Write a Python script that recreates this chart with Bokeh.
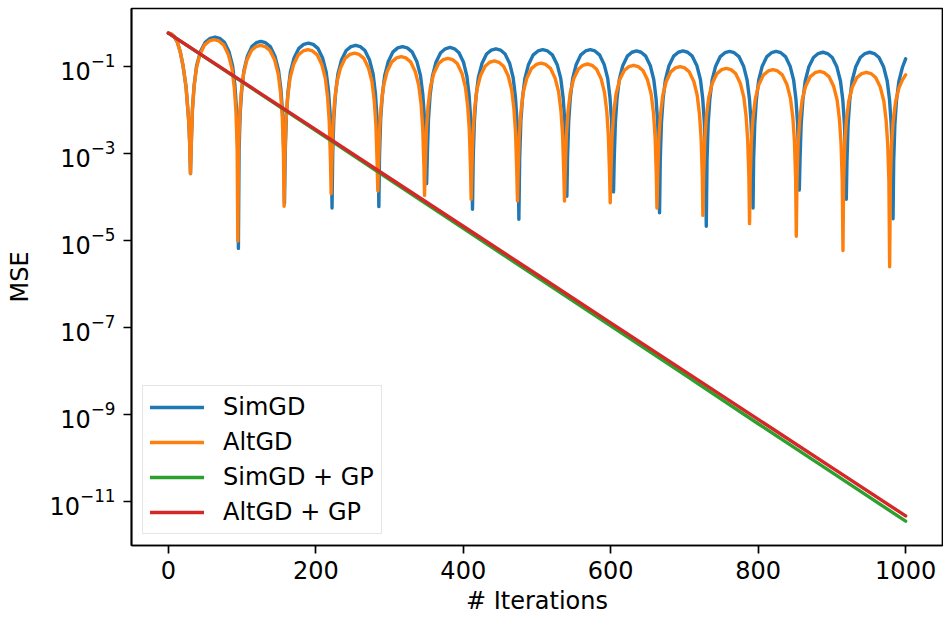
from bokeh.plotting import figure
from bokeh.models import Range1d, FixedTicker, Legend, LegendItem
from bokeh.embed import file_html
from bokeh.resources import INLINE

# ---------------- data (MSE given as log10) ----------------
start_iter = [0, 4, 8, 12, 16, 20, 24, 27.6, 29, 30]
start_log = [-0.24, -0.26, -0.32, -0.44, -0.66, -1.00, -1.48, -2.25, -2.80, -3.47]

simgd_iter = start_iter + [
    31.0, 32.7, 35.0, 38.3, 43.4, 50.0, 56.7, 63.4, 69.7, 76.0, 82.3, 87.1, 90.2, 92.4, 94.0, 95.0,
    95.9, 97.4, 99.6, 102.6, 107.2, 113.2, 119.3, 125.4, 131.8, 138.2, 144.6, 149.4, 152.6, 154.9, 156.5, 157.5,
    158.5, 160.1, 162.4, 165.6, 170.5, 177.0, 183.5, 190.0, 196.4, 202.8, 209.2, 214.0, 217.2, 219.5, 221.1, 222.0,
    222.9, 224.5, 226.8, 230.0, 234.8, 241.2, 247.6, 254.0, 260.3, 266.6, 272.9, 277.7, 280.8, 283.0, 284.6, 285.5,
    286.4, 288.0, 290.3, 293.5, 298.3, 304.7, 311.1, 317.5, 324.0, 330.5, 337.0, 341.9, 345.1, 347.4, 349.0, 350.3,
    351.2, 352.8, 355.0, 358.2, 363.0, 369.3, 375.7, 382.0, 388.1, 394.2, 400.3, 404.9, 407.9, 410.1, 411.6, 412.5,
    413.5, 415.1, 417.3, 420.5, 425.3, 431.6, 438.0, 444.3, 450.5, 456.7, 463.0, 467.6, 470.7, 472.9, 474.5, 475.4,
    476.5, 478.1, 480.4, 483.6, 488.5, 494.9, 501.4, 507.8, 514.3, 520.8, 527.3, 532.2, 535.4, 537.7, 539.3, 540.5,
    541.4, 543.0, 545.2, 548.4, 553.2, 559.5, 565.9, 572.2, 578.5, 584.8, 591.1, 595.9, 599.0, 601.2, 602.8, 603.8,
    604.7, 606.3, 608.5, 611.6, 616.3, 622.5, 628.8, 635.0, 641.2, 647.5, 653.7, 658.4, 661.5, 663.7, 665.3, 666.2,
    667.2, 668.8, 671.0, 674.2, 679.0, 685.3, 691.7, 698.0, 704.3, 710.6, 716.9, 721.7, 724.8, 727.0, 728.6, 729.6,
    730.6, 732.2, 734.4, 737.5, 742.3, 748.6, 754.9, 761.2, 767.5, 773.9, 780.2, 785.0, 788.2, 790.4, 792.0, 793.0,
    793.8, 795.4, 797.6, 800.7, 805.5, 811.8, 818.1, 824.4, 830.7, 837.0, 843.3, 848.1, 851.2, 853.4, 855.0, 855.8,
    856.7, 858.3, 860.6, 863.8, 868.6, 875.0, 881.4, 887.8, 894.1, 900.5, 906.8, 911.6, 914.8, 917.0, 918.6, 919.5,
    920.4, 922.0, 924.2, 927.4, 932.2, 938.5, 944.9, 951.2, 957.5, 963.9, 970.2, 975.0, 978.2, 980.4, 982.0, 982.9,
    983.8, 985.4, 987.6, 990.8, 995.6, 1000.0,
]
simgd_log = start_log + [
    -2.83, -1.98, -1.43, -0.99, -0.67, -0.45, -0.36, -0.33, -0.36, -0.45, -0.67, -0.99, -1.43, -1.98, -2.83, -5.19,
    -2.93, -2.08, -1.53, -1.09, -0.77, -0.55, -0.46, -0.43, -0.46, -0.55, -0.77, -1.09, -1.53, -2.08, -2.93, -4.15,
    -2.97, -2.12, -1.57, -1.13, -0.81, -0.59, -0.50, -0.47, -0.50, -0.59, -0.81, -1.13, -1.57, -2.12, -2.97, -4.26,
    -3.02, -2.17, -1.62, -1.18, -0.86, -0.64, -0.55, -0.52, -0.55, -0.64, -0.86, -1.18, -1.62, -2.17, -3.02, -4.23,
    -3.05, -2.20, -1.65, -1.21, -0.89, -0.67, -0.58, -0.55, -0.58, -0.67, -0.89, -1.21, -1.65, -2.20, -3.05, -3.70,
    -3.07, -2.22, -1.67, -1.23, -0.91, -0.69, -0.60, -0.57, -0.60, -0.69, -0.91, -1.23, -1.67, -2.22, -3.07, -4.29,
    -3.10, -2.25, -1.70, -1.26, -0.94, -0.72, -0.63, -0.60, -0.63, -0.72, -0.94, -1.26, -1.70, -2.25, -3.10, -4.52,
    -3.12, -2.27, -1.72, -1.28, -0.96, -0.74, -0.65, -0.62, -0.65, -0.74, -0.96, -1.28, -1.72, -2.27, -3.12, -3.99,
    -3.12, -2.27, -1.72, -1.28, -0.96, -0.74, -0.65, -0.62, -0.65, -0.74, -0.96, -1.28, -1.72, -2.27, -3.12, -3.89,
    -3.15, -2.30, -1.75, -1.31, -0.99, -0.77, -0.68, -0.65, -0.68, -0.77, -0.99, -1.31, -1.75, -2.30, -3.15, -4.37,
    -3.15, -2.30, -1.75, -1.31, -0.99, -0.77, -0.68, -0.65, -0.68, -0.77, -0.99, -1.31, -1.75, -2.30, -3.15, -4.68,
    -3.16, -2.31, -1.76, -1.32, -1.00, -0.78, -0.69, -0.66, -0.69, -0.78, -1.00, -1.32, -1.76, -2.31, -3.16, -4.26,
    -3.16, -2.31, -1.76, -1.32, -1.00, -0.78, -0.69, -0.66, -0.69, -0.78, -1.00, -1.32, -1.76, -2.31, -3.16, -3.85,
    -3.18, -2.33, -1.78, -1.34, -1.02, -0.80, -0.71, -0.68, -0.71, -0.80, -1.02, -1.34, -1.78, -2.33, -3.18, -4.06,
    -3.18, -2.33, -1.78, -1.34, -1.02, -0.80, -0.71, -0.68, -0.71, -0.80, -1.02, -1.34, -1.78, -2.33, -3.18, -4.51,
    -3.19, -2.34, -1.79, -1.35, -1.03, -0.83,
]

altgd_iter = start_iter + [
    30.9, 32.5, 34.8, 38.0, 42.8, 49.2, 55.6, 62.0, 68.4, 74.9, 81.3, 86.2, 89.4, 91.7, 93.3, 94.2,
    95.1, 96.7, 98.8, 101.9, 106.5, 112.7, 118.8, 125.0, 131.4, 137.8, 144.2, 149.0, 152.2, 154.5, 156.1, 157.0,
    157.9, 159.5, 161.8, 165.0, 169.9, 176.3, 182.8, 189.2, 195.5, 201.8, 208.1, 212.9, 216.0, 218.2, 219.8, 220.8,
    221.7, 223.3, 225.5, 228.7, 233.5, 239.8, 246.2, 252.5, 258.8, 265.1, 271.4, 276.2, 279.3, 281.5, 283.1, 284.1,
    285.0, 286.6, 288.8, 292.0, 296.8, 303.1, 309.5, 315.8, 322.1, 328.5, 334.8, 339.6, 342.8, 345.0, 346.6, 347.5,
    348.4, 350.0, 352.2, 355.4, 360.2, 366.5, 372.9, 379.2, 385.5, 391.8, 398.1, 402.9, 406.0, 408.2, 409.8, 410.7,
    411.6, 413.2, 415.4, 418.5, 423.3, 429.6, 435.9, 442.2, 448.4, 454.7, 460.9, 465.6, 468.7, 470.9, 472.5, 473.5,
    474.4, 476.0, 478.3, 481.5, 486.3, 492.7, 499.1, 505.5, 511.8, 518.2, 524.5, 529.3, 532.5, 534.7, 536.3, 537.3,
    538.2, 539.8, 542.0, 545.1, 549.8, 556.0, 562.3, 568.5, 574.7, 580.8, 587.0, 591.6, 594.7, 596.8, 598.4, 599.3,
    600.2, 601.8, 604.0, 607.2, 612.0, 618.3, 624.7, 631.0, 637.3, 643.7, 650.0, 654.8, 658.0, 660.2, 661.8, 662.7,
    663.7, 665.3, 667.5, 670.6, 675.3, 681.5, 687.8, 694.0, 700.2, 706.4, 712.7, 717.3, 720.4, 722.6, 724.2, 725.0,
    726.0, 727.6, 729.8, 733.0, 737.8, 744.1, 750.5, 756.8, 763.1, 769.4, 775.7, 780.5, 783.6, 785.8, 787.4, 788.3,
    789.2, 790.8, 793.0, 796.2, 801.0, 807.3, 813.7, 820.0, 826.3, 832.7, 839.0, 843.8, 847.0, 849.2, 850.8, 851.7,
    852.6, 854.2, 856.4, 859.6, 864.4, 870.7, 877.1, 883.4, 889.7, 896.0, 902.3, 907.1, 910.2, 912.4, 914.0, 915.0,
    915.9, 917.5, 919.7, 922.9, 927.7, 934.0, 940.4, 946.7, 953.0, 959.3, 965.6, 970.4, 973.5, 975.7, 977.3, 978.3,
    979.3, 980.9, 983.1, 986.3, 991.0, 995.5, 1000.0,
]
altgd_log = start_log + [
    -2.89, -2.04, -1.49, -1.05, -0.73, -0.51, -0.42, -0.39, -0.42, -0.51, -0.73, -1.05, -1.49, -2.04, -2.89, -5.02,
    -3.02, -2.17, -1.62, -1.18, -0.86, -0.64, -0.55, -0.52, -0.55, -0.64, -0.86, -1.18, -1.62, -2.17, -3.02, -4.22,
    -3.12, -2.27, -1.72, -1.28, -0.96, -0.74, -0.65, -0.62, -0.65, -0.74, -0.96, -1.28, -1.72, -2.27, -3.12, -3.93,
    -3.20, -2.35, -1.80, -1.36, -1.04, -0.82, -0.73, -0.70, -0.73, -0.82, -1.04, -1.36, -1.80, -2.35, -3.20, -3.87,
    -3.28, -2.43, -1.88, -1.44, -1.12, -0.90, -0.81, -0.78, -0.81, -0.90, -1.12, -1.44, -1.88, -2.43, -3.28, -3.97,
    -3.32, -2.47, -1.92, -1.48, -1.16, -0.94, -0.85, -0.82, -0.85, -0.94, -1.16, -1.48, -1.92, -2.47, -3.32, -4.06,
    -3.38, -2.53, -1.98, -1.54, -1.22, -1.00, -0.91, -0.88, -0.91, -1.00, -1.22, -1.54, -1.98, -2.53, -3.38, -4.10,
    -3.43, -2.58, -2.03, -1.59, -1.27, -1.05, -0.96, -0.93, -0.96, -1.05, -1.27, -1.59, -2.03, -2.58, -3.43, -4.10,
    -3.45, -2.60, -2.05, -1.61, -1.29, -1.07, -0.98, -0.95, -0.98, -1.07, -1.29, -1.61, -2.05, -2.60, -3.45, -4.14,
    -3.48, -2.63, -2.08, -1.64, -1.32, -1.10, -1.01, -0.98, -1.01, -1.10, -1.32, -1.64, -2.08, -2.63, -3.48, -4.26,
    -3.51, -2.66, -2.11, -1.67, -1.35, -1.13, -1.04, -1.01, -1.04, -1.13, -1.35, -1.67, -2.11, -2.66, -3.51, -4.43,
    -3.55, -2.70, -2.15, -1.71, -1.39, -1.17, -1.08, -1.05, -1.08, -1.17, -1.39, -1.71, -2.15, -2.70, -3.55, -4.62,
    -3.58, -2.73, -2.18, -1.74, -1.42, -1.20, -1.11, -1.08, -1.11, -1.20, -1.42, -1.74, -2.18, -2.73, -3.58, -4.91,
    -3.62, -2.77, -2.22, -1.78, -1.46, -1.24, -1.15, -1.12, -1.15, -1.24, -1.46, -1.78, -2.22, -2.77, -3.62, -5.24,
    -3.64, -2.79, -2.24, -1.80, -1.48, -1.26, -1.17, -1.14, -1.17, -1.26, -1.48, -1.80, -2.24, -2.79, -3.64, -5.61,
    -3.66, -2.81, -2.26, -1.82, -1.50, -1.32, -1.20,
]

gp_iter = [0, 100, 200, 300, 400, 500, 600, 700, 800, 900, 1000]
simgd_gp_log = [-0.24, -1.36, -2.48, -3.61, -4.73, -5.85, -6.97, -8.09, -9.22, -10.34, -11.46]
altgd_gp_log = [-0.24, -1.35, -2.46, -3.57, -4.68, -5.79, -6.90, -8.01, -9.12, -10.23, -11.34]

x_ticks = [0, 200, 400, 600, 800, 1000]
y_ticks = [1e-11, 1e-9, 1e-7, 1e-5, 1e-3, 1e-1]
labels = ["SimGD", "AltGD", "SimGD + GP", "AltGD + GP"]
colors = ["#1f77b4", "#ff7f0e", "#2ca02c", "#d62728"]

def to_mse(logs):
    return [10.0 ** v for v in logs]

FONT = "DejaVu Sans"
FS = "24px"

p = figure(width=943, height=621, y_axis_type="log",
           x_range=Range1d(-50, 1050), y_range=Range1d(10 ** -12.02, 10 ** 0.326),
           output_backend="svg", toolbar_location=None,
           min_border_left=131, min_border_right=1, min_border_top=8, min_border_bottom=76)
p.background_fill_color = "white"
p.border_fill_color = "white"
p.outline_line_color = "black"
p.outline_line_width = 1.7
p.xgrid.grid_line_color = None
p.ygrid.grid_line_color = None

series = [(simgd_iter, simgd_log), (altgd_iter, altgd_log),
          (gp_iter, simgd_gp_log), (gp_iter, altgd_gp_log)]
renderers = []
for (xs, ls), c in zip(series, colors):
    r = p.line(xs, to_mse(ls), line_color=c, line_width=3.4,
               line_join="round", line_cap="round")
    renderers.append(r)

for ax in (p.xaxis[0], p.yaxis[0]):
    ax.major_label_text_font = FONT
    ax.major_label_text_font_size = FS
    ax.major_label_text_color = "black"
    ax.axis_label_text_font = FONT
    ax.axis_label_text_font_size = FS
    ax.axis_label_text_font_style = "normal"
    ax.axis_label_text_color = "black"
    ax.axis_line_color = "black"
    ax.axis_line_width = 1.7
    ax.major_tick_line_color = "black"
    ax.major_tick_line_width = 1.7
    ax.major_tick_out = 8
    ax.major_tick_in = 0
    ax.minor_tick_line_color = None

p.xaxis.ticker = FixedTicker(ticks=x_ticks)
p.yaxis.ticker = FixedTicker(ticks=y_ticks)
p.xaxis.axis_label = "# Iterations"
p.yaxis.axis_label = "MSE"
p.xaxis.major_label_standoff = 7
p.xaxis.axis_label_standoff = 5
p.yaxis.major_label_standoff = 8
p.yaxis.axis_label_standoff = 13

legend = Legend(items=[LegendItem(label=l, renderers=[r]) for l, r in zip(labels, renderers)],
                location="bottom_left", margin=11)
legend.label_text_font = FONT
legend.label_text_font_size = FS
legend.label_text_color = "black"
legend.glyph_width = 54
legend.glyph_height = 26
legend.label_height = 26
legend.label_standoff = 19
legend.spacing = 7
legend.padding = 7
legend.border_line_color = "#cccccc"
legend.border_line_width = 1.5
legend.background_fill_color = "white"
legend.background_fill_alpha = 0.8
p.add_layout(legend, "center")

open("out.html", "w").write(file_html(p, INLINE))
